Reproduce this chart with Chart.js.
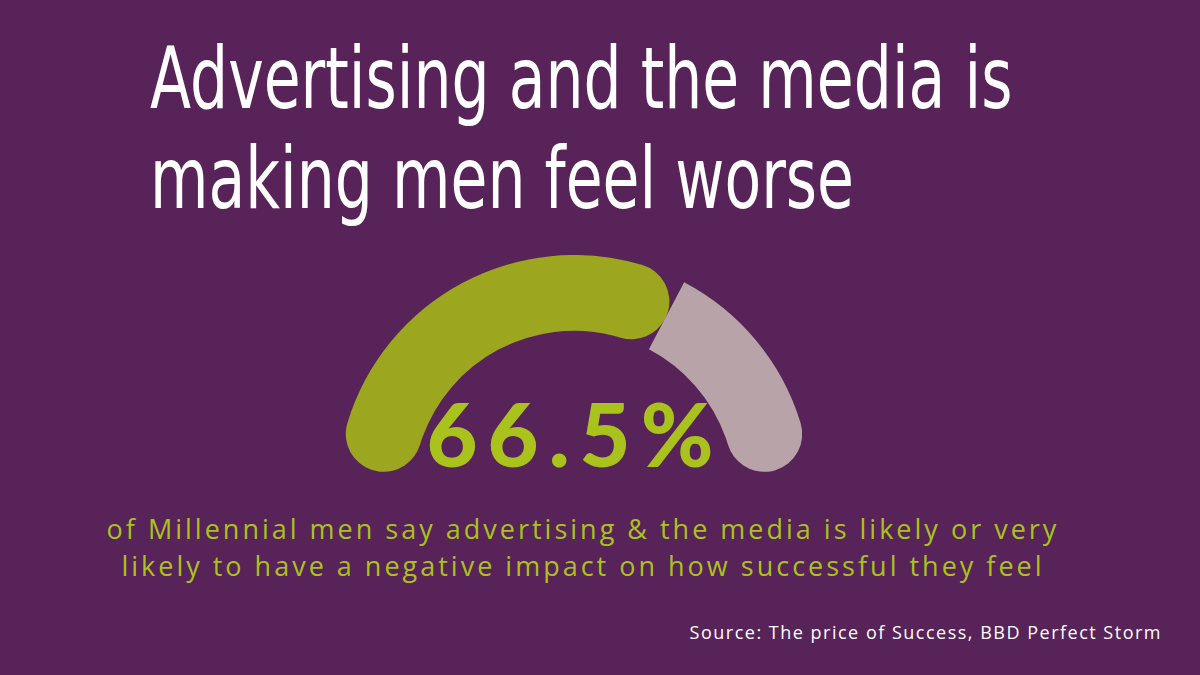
<!DOCTYPE html>
<html><head><meta charset="utf-8">
<script src="https://cdn.jsdelivr.net/npm/chart.js@4/dist/chart.umd.min.js"></script>
<style>
body{margin:0;width:1200px;height:675px;background:#582358;position:relative;overflow:hidden;font-family:"Open Sans",sans-serif}
#title{position:absolute;left:150px;top:28px;color:#fff;font-family:"DejaVu Sans",sans-serif;font-weight:500;font-size:76px;line-height:90px;transform:scale(0.79,1.12);transform-origin:top left;white-space:nowrap}
#gauge{position:absolute;left:329px;top:255px;width:490px;height:220px}
#big{position:absolute;left:0;width:1150px;text-align:center;top:380px;color:#a9c21c;font-family:"Lato",sans-serif;font-weight:900;font-size:88px;letter-spacing:10px}
#sub{position:absolute;left:0;width:1166px;text-align:center;top:510px;color:#a9c21c;font-size:27px;line-height:37px;letter-spacing:3px}
#src{position:absolute;right:38px;top:620px;color:#fff;font-size:18px;letter-spacing:1.5px}
</style></head><body>
<div id="title">Advertising and the media is<br>making men feel worse</div>
<div id="gauge"><canvas id="c"></canvas></div>
<div id="big">66.5%</div>
<div id="sub">of Millennial men say advertising &amp; the media is likely or very<br>likely to have a negative impact on how successful they feel</div>
<div id="src">Source: The price of Success, BBD Perfect Storm</div>
<script>
const labels = ["Likely / very likely", "Other"];
const values = [66.5, 33.5];
const colors = ["#9ca61e", "#b8a3a8"];
new Chart(document.getElementById("c"), {
  type: "doughnut",
  data: { labels: labels, datasets: [{ data: values, backgroundColor: colors, borderWidth: 0,
    borderRadius: [{outerStart:40,innerStart:40,outerEnd:40,innerEnd:40},{outerStart:0,innerStart:0,outerEnd:40,innerEnd:40}] }] },
  options: { responsive: true, maintainAspectRatio: false, animation: false,
    rotation: -84, circumference: 168, cutout: "68%",
    plugins: { legend: { display: false }, tooltip: { enabled: false } } }
});
</script>
</body></html>
